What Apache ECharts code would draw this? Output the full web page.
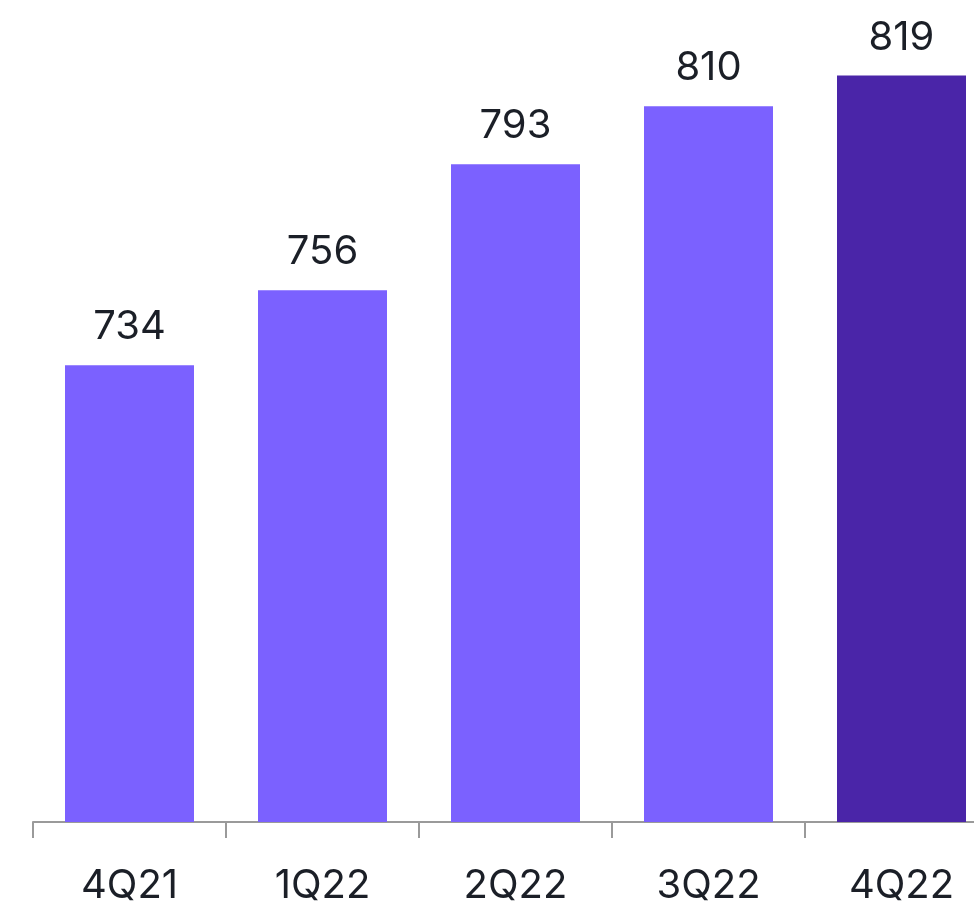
<!DOCTYPE html>
<html>
<head>
<meta charset="utf-8">
<script src="https://cdn.jsdelivr.net/npm/echarts@6/dist/echarts.min.js"></script>
<style>
  html, body { margin: 0; padding: 0; background: #fff; }
  #chart { width: 974px; height: 914px; }
</style>
</head>
<body>
<div id="chart"></div>
<script>
var categories = ['4Q21', '1Q22', '2Q22', '3Q22', '4Q22'];
var values = [734, 756, 793, 810, 819];
var barColors = ['#7B61FF', '#7B61FF', '#7B61FF', '#7B61FF', '#4A25A8'];

var myChart = echarts.init(document.getElementById('chart'));

var option = {
    animation: false,
    grid: {
        left: 33,
        right: -24,
        top: 4,
        bottom: 92,
        outerBoundsMode: 'none'
    },
    xAxis: {
        type: 'category',
        data: categories,
        axisLine: { lineStyle: { color: '#9a9a9a', width: 2 } },
        axisTick: { show: true, length: 16, lineStyle: { color: '#9a9a9a', width: 2 } },
        axisLabel: {
            color: '#1b1f27',
            fontSize: 40,
            fontFamily: 'Inter',
            margin: 44
        }
    },
    yAxis: {
        type: 'value',
        min: 600,
        max: 840,
        show: false
    },
    series: [{
        type: 'bar',
        barWidth: 129,
        data: values.map(function (v, i) {
            return { value: v, itemStyle: { color: barColors[i] } };
        }),
        label: {
            show: true,
            position: 'top',
            distance: 18,
            color: '#1b1f27',
            fontSize: 40,
            fontFamily: 'Inter'
        }
    }]
};

myChart.setOption(option);
window.addEventListener('resize', myChart.resize);
</script>
</body>
</html>
